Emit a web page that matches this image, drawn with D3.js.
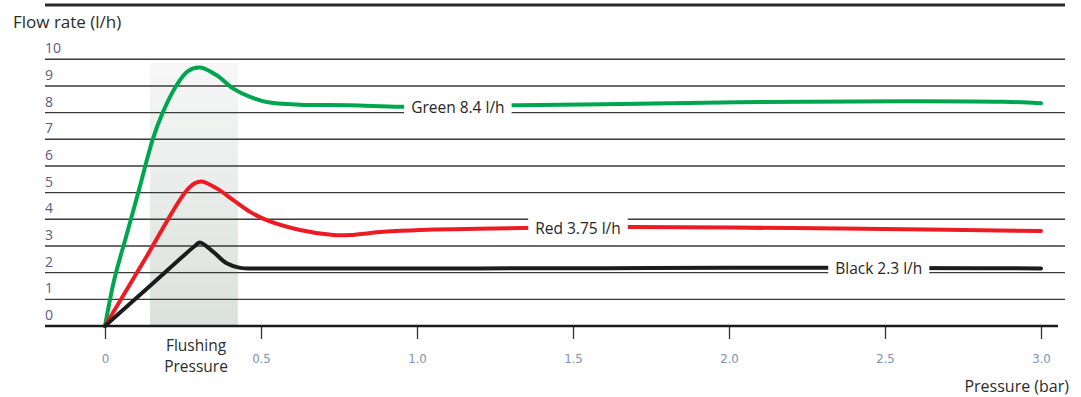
<!DOCTYPE html>
<html><head><meta charset="utf-8">
<script src="https://cdn.jsdelivr.net/npm/d3@7"></script>
<style>
body{margin:0;background:#fff;}
svg{display:block;}
</style></head>
<body>
<svg id="chart" width="1081" height="397"></svg>
<script>
const xTicks = [0, 0.5, 1.0, 1.5, 2.0, 2.5, 3.0];
const xTickLabels = ["0", "0.5", "1.0", "1.5", "2.0", "2.5", "3.0"];
const yTicks = [0,1,2,3,4,5,6,7,8,9,10];

const greenP = [0, 0.03, 0.07, 0.11, 0.153, 0.185, 0.228, 0.265, 0.304, 0.358, 0.411, 0.465, 0.518, 0.625, 0.785, 0.946, 1.1, 1.32, 1.6, 1.92, 2.24, 2.56, 2.88, 3.0];
const greenV = [0, 1.75, 3.45, 5.15, 7.0, 8.0, 9.0, 9.55, 9.69, 9.40, 8.90, 8.59, 8.40, 8.30, 8.28, 8.22, 8.24, 8.28, 8.31, 8.37, 8.41, 8.43, 8.41, 8.35];

const redP = [0, 0.128, 0.256, 0.288, 0.31, 0.358, 0.411, 0.465, 0.518, 0.625, 0.732, 0.785, 0.892, 1.01, 1.33, 1.68, 2.2, 2.7, 3.0];
const redV = [0, 2.5, 5.0, 5.35, 5.42, 5.16, 4.72, 4.28, 3.97, 3.60, 3.41, 3.41, 3.53, 3.60, 3.67, 3.71, 3.67, 3.61, 3.56];

const blackP = [0, 0.144, 0.288, 0.304, 0.347, 0.39, 0.433, 0.52, 0.8, 1.2, 1.6, 2.0, 2.4, 2.8, 3.0];
const blackV = [0, 1.5, 3.0, 3.13, 2.78, 2.35, 2.18, 2.16, 2.16, 2.16, 2.17, 2.18, 2.18, 2.17, 2.16];

const seriesLabels = ["Green 8.4 l/h", "Red 3.75 l/h", "Black 2.3 l/h"];
const seriesLabelAt = [1.131, 1.516, 2.48];
const seriesColors = ["#00a54f", "#ec1c24", "#1c1c1c"];
const flushRange = [0.144, 0.426];

const svg = d3.select("#chart");
const x = d3.scaleLinear().domain([0, 3]).range([105, 1041]);
const y = d3.scaleLinear().domain([0, 10]).range([326, 59.3]);

const defs = svg.append("defs");
const grad = defs.append("linearGradient").attr("id","shade").attr("x1",0).attr("y1",0).attr("x2",0).attr("y2",1);
grad.append("stop").attr("offset","0%").attr("stop-color","#f6f7f6");
grad.append("stop").attr("offset","100%").attr("stop-color","#dbe1dd");

// shaded flushing region
svg.append("rect")
  .attr("x", x(flushRange[0])).attr("y", 63)
  .attr("width", x(flushRange[1]) - x(flushRange[0]))
  .attr("height", y(0) - 63)
  .attr("fill", "url(#shade)");

// top line
svg.append("line").attr("x1",45).attr("x2",1065).attr("y1",5).attr("y2",5)
  .attr("stroke","#2a2a2a").attr("stroke-width",3);

// gridlines
svg.append("g").selectAll("line").data(yTicks.filter(d=>d>0)).join("line")
  .attr("x1",45).attr("x2",1065)
  .attr("y1",d=>y(d)).attr("y2",d=>y(d))
  .attr("stroke","#3a3a3a").attr("stroke-width",1.4);

// y labels
svg.append("g").selectAll("text").data(yTicks).join("text")
  .attr("x",45).attr("y",d=>y(d)-6)
  .attr("font-family","'Open Sans', 'Noto Sans', sans-serif")
  .attr("font-size",14).attr("fill","#5d5a86")
  .text(d=>d);

// x axis
const xAxis = d3.axisBottom(x).tickValues(xTicks).tickSize(13)
  .tickFormat((d,i)=>xTickLabels[i]);
const gx = svg.append("g").attr("transform",`translate(0,${y(0)})`).call(xAxis);
gx.select(".domain").remove();
gx.selectAll(".tick line").attr("stroke","#333").attr("stroke-width",1.3);
gx.selectAll(".tick text").attr("y",28).attr("dy","0.71em")
  .attr("font-family","'Liberation Sans Narrow', 'DejaVu Sans Condensed', sans-serif")
  .attr("font-size",13).attr("fill","#7d8fb3");

svg.append("line").attr("x1",45).attr("x2",1058).attr("y1",y(0)).attr("y2",y(0))
  .attr("stroke","#1a1a1a").attr("stroke-width",2.5);

// curves
const line = d3.line().x(d=>x(d[0])).y(d=>y(d[1])).curve(d3.curveCatmullRom.alpha(0.5));
const seriesData = [
  greenP.map((p,i)=>[p, greenV[i]]),
  redP.map((p,i)=>[p, redV[i]]),
  blackP.map((p,i)=>[p, blackV[i]])
];
seriesData.forEach((data, i) => {
  svg.append("path").datum(data).attr("d", line)
    .attr("fill","none").attr("stroke",seriesColors[i])
    .attr("stroke-width",4).attr("stroke-linecap","round").attr("stroke-linejoin","round");
});

// series labels with white backgrounds
const labelFont = "'Open Sans', 'Noto Sans', sans-serif";
seriesLabels.forEach((lab, i) => {
  const data = seriesData[i];
  const px = seriesLabelAt[i];
  const bis = d3.bisector(d=>d[0]).left(data, px);
  const a = data[bis-1], b = data[bis];
  const v = a[1] + (b[1]-a[1])*(px-a[0])/(b[0]-a[0]);
  const cx = x(px), cy = y(v) + 1;
  const t = svg.append("text").attr("x",cx).attr("y",cy).attr("dy","0.35em")
    .attr("text-anchor","middle").attr("font-family",labelFont)
    .attr("font-size",15.5).attr("fill","#262626").text(lab);
  const bb = t.node().getBBox();
  svg.insert("rect", () => t.node())
    .attr("x", bb.x - 7).attr("y", cy - 11).attr("width", bb.width + 14).attr("height", 22)
    .attr("fill","#fff");
});

// titles
svg.append("text").attr("x",13).attr("y",28)
  .attr("font-family",labelFont).attr("font-size",17).attr("fill","#2b2b2b")
  .text("Flow rate (l/h)");
svg.append("text").attr("x",1069).attr("y",392).attr("text-anchor","end")
  .attr("font-family",labelFont).attr("font-size",16).attr("fill","#2b2b2b")
  .text("Pressure (bar)");
const fl = svg.append("text").attr("text-anchor","middle")
  .attr("font-family",labelFont).attr("font-size",15.5).attr("fill","#2b2b2b");
fl.append("tspan").attr("x",196).attr("y",351).text("Flushing");
fl.append("tspan").attr("x",196).attr("y",372).text("Pressure");
</script>
</body></html>
